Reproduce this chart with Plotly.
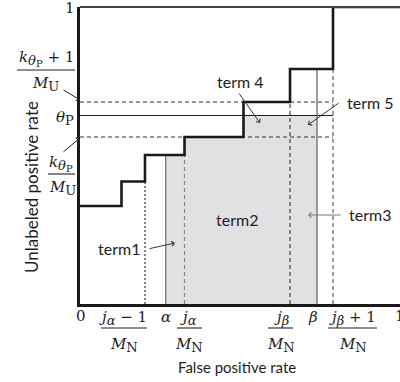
import numpy as np
import plotly.graph_objects as go

# ---------------- data ----------------
step_x = [0.0, 0.1297, 0.2031, 0.3266, 0.5109, 0.6563, 0.7906, 1.0]
step_y = [0.330, 0.4125, 0.5017, 0.5623, 0.6800, 0.7910, 1.0, 1.0]

alpha = 0.2678
beta = 0.7406
j_alpha_m1 = 0.2031
j_alpha = 0.3266
j_beta = 0.6563
j_beta_p1 = 0.7906

theta_p = 0.6347
k_over_mu = 0.5623
k1_over_mu = 0.6800

# ---------------- layout constants ----------------
W, H = 400, 382
L, R, T, B = 80, 0, 7, 78
PW, PH = W - L - R, H - T - B
PB = H - B

MATH = "DejaVu Serif"
SANS = "Lato"
INK = "#1e1e1e"


def step_at(x):
    bx = np.array(step_x[1:-1])
    idx = np.searchsorted(bx, x, side="right")
    return step_y[idx]


def P(px, py):
    return dict(x=(px - L) / PW, y=(PB - py) / PH, xref="paper", yref="paper")


fig = go.Figure()

# ---------------- shaded area (term regions) ----------------
fx, fy = [alpha, alpha], [0, min(step_at(alpha), theta_p)]
for b in step_x[1:-1]:
    if alpha < b < beta:
        fx += [b, b]
        fy += [min(step_at(b - 1e-9), theta_p), min(step_at(b), theta_p)]
fx += [beta, beta]
fy += [min(step_at(beta), theta_p), 0]
fig.add_trace(go.Scatter(x=fx, y=fy, fill="toself", fillcolor="#e1e1e4",
                         line=dict(width=0), mode="lines", hoverinfo="skip"))

# ---------------- horizontal reference lines ----------------
fig.add_trace(go.Scatter(x=[0, j_beta_p1], y=[k1_over_mu, k1_over_mu], mode="lines",
                         line=dict(color="#333", width=1, dash="4px,3px")))
fig.add_trace(go.Scatter(x=[0, j_beta_p1], y=[k_over_mu, k_over_mu], mode="lines",
                         line=dict(color="#333", width=1, dash="4px,3px")))
fig.add_trace(go.Scatter(x=[0, j_beta_p1], y=[theta_p, theta_p], mode="lines",
                         line=dict(color="#222", width=1.2)))

# ---------------- vertical lines ----------------
vstyle = {
    "ja1": (j_alpha_m1, dict(color="#444", width=1.3, dash="2px,2px")),
    "ja": (j_alpha, dict(color="#888", width=1.2, dash="4px,3px")),
    "jb": (j_beta, dict(color="#333", width=1.1, dash="4px,3px")),
    "jb1": (j_beta_p1, dict(color="#888", width=1.6, dash="4px,3px")),
    "a": (alpha, dict(color="#777", width=1.3)),
    "b": (beta, dict(color="#666", width=1.3)),
}
for key, (xv, st) in vstyle.items():
    top = step_at(xv)
    fig.add_trace(go.Scatter(x=[xv, xv], y=[0, top], mode="lines", line=st))

# ---------------- ROC staircase ----------------
fig.add_trace(go.Scatter(x=step_x, y=step_y, mode="lines", line_shape="hv",
                         line=dict(color="#1a1a1a", width=2.6)))

# ---------------- annotations ----------------
ann = []
shapes = []


def text(px, py, s, size=15, font=SANS, color=INK, angle=0):
    d = P(px, py)
    d.update(text=s, showarrow=False, xanchor="center", yanchor="middle",
             font=dict(family=font, size=size, color=color), textangle=angle)
    ann.append(d)


def bar(x0, x1, py, color="#222"):
    shapes.append(dict(type="line", xref="paper", yref="paper",
                       x0=(x0 - L) / PW, x1=(x1 - L) / PW,
                       y0=(PB - py) / PH, y1=(PB - py) / PH,
                       line=dict(color=color, width=1.1)))


def arrow(tx, ty, hx, hy, color="#222"):
    d = P(hx, hy)
    d.update(text="", showarrow=True, ax=tx - hx, ay=ty - hy, arrowhead=4,
             arrowsize=1, arrowwidth=1, arrowcolor=color, standoff=0,
             font=dict(size=1))
    ann.append(d)


def sub(s, px=13):
    return "<sub><span style='font-size:%dpx'>%s</span></sub>" % (px, s)


ksub = "<i>k</i><sub><span style='font-size:13px'><i>θ</i></span>" \
       "<sub><span style='font-size:10px'>P</span></sub></sub>"
MU = "<i>M</i>" + sub("U")
MN = "<i>M</i>" + sub("N")

# y-side labels
text(70, 7.5, "1", 15, MATH)
text(46, 59, ksub + " + 1", 15, MATH)
bar(17, 75, 70)
text(45, 84, MU, 15, MATH)
text(65, 118, "<i>θ</i>" + sub("P"), 15, MATH)
text(61, 163, ksub, 15, MATH)
bar(48, 75, 174)
text(62, 188, MU, 15, MATH)
arrow(62, 89, 80, 100)
arrow(62, 153, 80, 138)

# x-side labels
text(81, 316, "0", 15, MATH)
text(400, 316, "1", 15, MATH)
text(123, 318, "<i>j</i>" + sub("<i>α</i>") + " − 1", 15, MATH)
bar(101, 147, 328)
text(124, 345, MN, 15, MATH)
text(166, 317, "<i>α</i>", 15, MATH)
text(188, 318, "<i>j</i>" + sub("<i>α</i>"), 15, MATH)
bar(177, 202, 328)
text(189, 345, MN, 15, MATH)
text(281, 318, "<i>j</i>" + sub("<i>β</i>"), 15, MATH)
bar(268, 293, 328)
text(281, 345, MN, 15, MATH)
text(313, 317, "<i>β</i>", 15, MATH)
text(352, 318, "<i>j</i>" + sub("<i>β</i>") + " + 1", 15, MATH)
bar(328, 377, 328)
text(353, 345, MN, 15, MATH)

# axis titles
text(237, 367, "False positive rate", 15)
text(31, 187, "Unlabeled positive rate", 17, angle=-90)

# term labels
text(240, 82, "term 4", 16)
text(370, 102, "term 5", 16)
text(237, 219, "term2", 16)
text(119, 248, "term1", 16)
text(370, 215, "term3", 16)
arrow(238, 92, 260, 123, "#333")
arrow(340, 102, 308, 125, "#333")
arrow(148, 249, 175, 243, "#333")
arrow(342, 215, 308, 215, "#777")

# top frame
shapes.append(dict(type="line", xref="paper", yref="paper", x0=0, x1=1, y0=1, y1=1,
                   line=dict(color="#444", width=1.8)))

fig.update_layout(
    width=W, height=H, margin=dict(l=L, r=R, t=T, b=B, autoexpand=False),
    paper_bgcolor="white", plot_bgcolor="white", showlegend=False,
    annotations=ann, shapes=shapes,
    xaxis=dict(range=[0, 1], showgrid=False, zeroline=False, showticklabels=False,
               ticks="", showline=True, linecolor="#1a1a1a", linewidth=2.6),
    yaxis=dict(range=[0, 1], showgrid=False, zeroline=False, showticklabels=False,
               ticks="", showline=True, linecolor="#1a1a1a", linewidth=2.6),
)

fig.write_html("out.html", config={"displayModeBar": False},
               post_script="document.body.style.margin='0';document.body.style.overflow='hidden';")
